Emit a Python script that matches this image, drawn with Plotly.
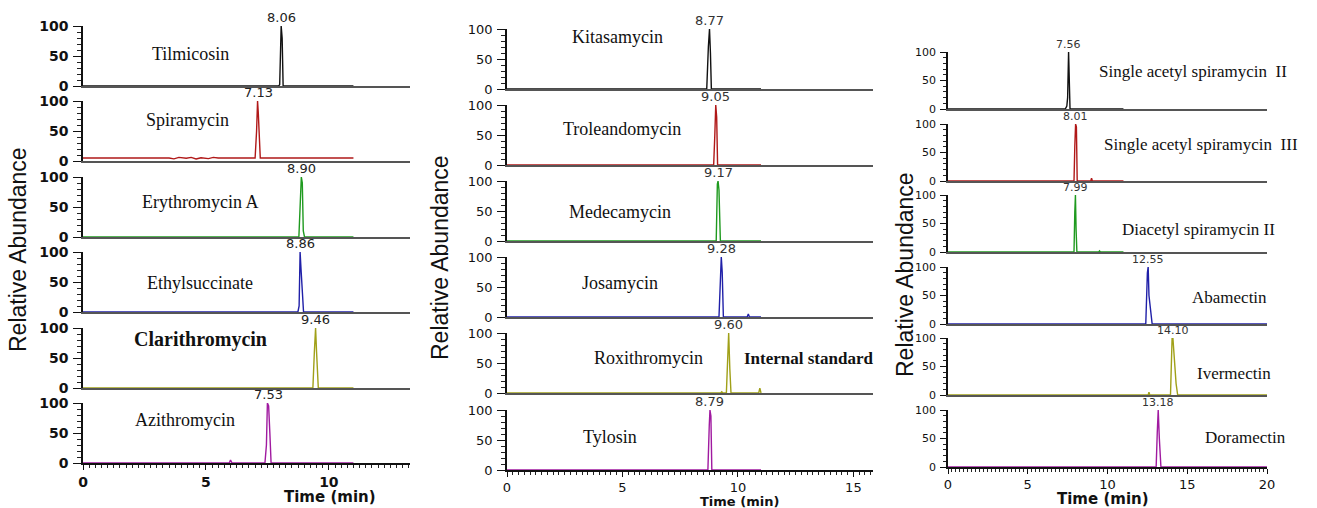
import plotly.graph_objects as go

W, H = 1317, 508

# ---------------- data ----------------
# Column 1
names_c1 = ["Tilmicosin", "Spiramycin", "Erythromycin A", "Ethylsuccinate", "Clarithromycin", "Azithromycin"]
rt_c1 = ["8.06", "7.13", "8.90", "8.86", "9.46", "7.53"]
tilmicosin_t = [0, 7.95, 8.00, 8.03, 8.06, 8.10, 8.14, 11.0]
tilmicosin_y = [0, 0, 2, 78, 100, 80, 0, 0]
spiramycin_t = [0, 3.5, 3.7, 3.9, 4.2, 4.4, 4.6, 4.8, 5.1, 5.3, 5.5, 7.00, 7.06, 7.10, 7.13, 7.17, 7.21, 7.26, 11.0]
spiramycin_y = [5, 5, 3.5, 6, 4.5, 6, 3.5, 5.5, 4, 6, 5, 5, 50, 100, 80, 30, 5, 5, 5]
erythromycin_t = [0, 8.78, 8.84, 8.88, 8.92, 8.96, 9.01, 11.0]
erythromycin_y = [0, 0, 60, 100, 90, 10, 0, 0]
ethylsucc_t = [0, 8.74, 8.79, 8.83, 8.87, 8.91, 8.97, 11.0]
ethylsucc_y = [0, 0, 10, 100, 70, 40, 0, 0]
clarithro_t = [0, 9.35, 9.41, 9.46, 9.50, 9.57, 11.0]
clarithro_y = [0, 0, 60, 100, 60, 0, 0]
azithro_t = [0, 5.95, 6.0, 6.06, 7.40, 7.46, 7.50, 7.55, 7.60, 7.65, 11.0]
azithro_y = [0, 0, 5, 0, 0, 30, 100, 95, 50, 0, 0]

# Column 2
names_c2 = ["Kitasamycin", "Troleandomycin", "Medecamycin", "Josamycin", "Roxithromycin", "Tylosin"]
rt_c2 = ["8.77", "9.05", "9.17", "9.28", "9.60", "8.79"]
kitasa_t = [0, 8.65, 8.72, 8.77, 8.81, 8.85, 11.0]
kitasa_y = [0, 0, 70, 100, 60, 0, 0]
trolean_t = [0, 8.95, 9.00, 9.04, 9.08, 9.12, 11.0]
trolean_y = [0, 0, 50, 100, 80, 0, 0]
medeca_t = [0, 9.06, 9.11, 9.14, 9.18, 9.24, 11.0]
medeca_y = [0, 0, 95, 100, 85, 0, 0]
josa_t = [0, 9.18, 9.24, 9.28, 9.32, 9.37, 10.40, 10.45, 10.50, 11.0]
josa_y = [0, 0, 60, 100, 75, 0, 0, 5, 0, 0]
roxi_t = [0, 9.25, 9.30, 9.35, 9.50, 9.55, 9.60, 9.65, 9.70, 10.90, 10.95, 11.0]
roxi_y = [0, 0, 2, 0, 0, 40, 100, 40, 0, 0, 8, 0]
tylosin_t = [0, 8.70, 8.76, 8.79, 8.83, 8.87, 11.0]
tylosin_y = [0, 0, 75, 100, 90, 0, 0]

# Column 3
names_c3 = ["Single acetyl spiramycin \u00a0II", "Single acetyl spiramycin \u00a0III", "Diacetyl spiramycin II",
            "Abamectin", "Ivermectin", "Doramectin"]
rt_c3 = ["7.56", "8.01", "7.99", "12.55", "14.10", "13.18"]
sacII_t = [0, 7.35, 7.45, 7.50, 7.56, 7.60, 7.65, 11.0]
sacII_y = [0, 0, 5, 20, 100, 70, 0, 0]
sacIII_t = [0, 7.90, 7.95, 8.00, 8.05, 8.10, 8.95, 9.0, 9.05, 11.0]
sacIII_y = [0, 0, 60, 100, 95, 0, 0, 5, 0, 0]
diac_t = [0, 7.90, 7.95, 7.99, 8.03, 8.08, 9.45, 9.5, 9.55, 11.0]
diac_y = [0, 0, 70, 100, 40, 0, 0, 2, 0, 0]
abam_t = [0, 12.40, 12.50, 12.55, 12.60, 12.70, 12.80, 20.0]
abam_y = [0, 0, 90, 100, 50, 20, 0, 0]
iver_t = [0, 12.55, 12.60, 12.65, 13.95, 14.05, 14.10, 14.20, 14.30, 14.40, 20.0]
iver_y = [0, 0, 5, 0, 0, 100, 100, 50, 20, 0, 0]
dora_t = [0, 13.05, 13.12, 13.18, 13.25, 13.35, 20.0]
dora_y = [0, 0, 60, 100, 50, 0, 0]

series_t = [tilmicosin_t, spiramycin_t, erythromycin_t, ethylsucc_t, clarithro_t, azithro_t,
            kitasa_t, trolean_t, medeca_t, josa_t, roxi_t, tylosin_t,
            sacII_t, sacIII_t, diac_t, abam_t, iver_t, dora_t]
series_y = [tilmicosin_y, spiramycin_y, erythromycin_y, ethylsucc_y, clarithro_y, azithro_y,
            kitasa_y, trolean_y, medeca_y, josa_y, roxi_y, tylosin_y,
            sacII_y, sacIII_y, diac_y, abam_y, iver_y, dora_y]
names = names_c1 + names_c2 + names_c3
rts = rt_c1 + rt_c2 + rt_c3

colors = ["#111111", "#b01818", "#1f9a1f", "#2020a8", "#a0a018", "#a01aa0"]

# ---------------- layout geometry (pixels) ----------------
col_x = [(83, 410), (507, 873), (948, 1267)]
col_range = [[0, 13.3], [0, 15.85], [0, 20]]
col_zero = [[86, 161, 237, 312, 388, 463],
            [89, 165, 241, 317, 393, 470],
            [109, 181, 252, 324, 395, 467]]
col_h = [60, 60, 57]

name_pos = [
    [(190, 54), (187, 120), (200, 202), (200, 283), (200, 339), (185, 420)],
    [(617, 37), (622, 129), (620, 212), (620, 283), (648, 358), (610, 437)],
    [(1097, 72), (1102, 145), (1120, 229), (1190, 297), (1195, 373), (1203, 437)],
]

def px(x):
    return x / W

def py(y):
    return 1 - y / H

fig = go.Figure()
layout = dict(width=W, height=H, margin=dict(l=0, r=0, t=0, b=0, pad=0, autoexpand=False),
              plot_bgcolor="white", paper_bgcolor="white", showlegend=False)
annotations = []

ytick_font = [dict(family="DejaVu Sans", size=14, color="#111", weight="bold"),
              dict(family="DejaVu Sans", size=13, color="#111"),
              dict(family="DejaVu Sans", size=11, color="#111")]
xtick_font = [dict(family="DejaVu Sans", size=14, color="#111", weight="bold"),
              dict(family="DejaVu Sans", size=13, color="#111"),
              dict(family="DejaVu Sans", size=13, color="#111")]
rt_font = [dict(family="DejaVu Sans", size=13, color="#222"),
           dict(family="DejaVu Sans", size=13, color="#333"),
           dict(family="DejaVu Sans", size=11, color="#333")]

idx = 0
for c in range(3):
    for r in range(6):
        idx += 1
        xa = "xaxis" if idx == 1 else f"xaxis{idx}"
        ya = "yaxis" if idx == 1 else f"yaxis{idx}"
        xr = "x" if idx == 1 else f"x{idx}"
        yr = "y" if idx == 1 else f"y{idx}"
        z = col_zero[c][r]
        top = z - col_h[c]
        bottom = (r == 5)
        xaxis = dict(domain=[px(col_x[c][0]), px(col_x[c][1])], range=col_range[c],
                     anchor=yr, showgrid=False, zeroline=False, showline=True,
                     linewidth=1.5, fixedrange=True, automargin=False)
        if bottom:
            xaxis.update(linecolor="#111", ticks="outside", tick0=0, dtick=5, ticklen=5,
                         tickwidth=1.3, tickcolor="#111", showticklabels=True,
                         tickfont=xtick_font[c], ticklabelstandoff=0,
                         minor=dict(dtick=0.25, ticklen=3, ticks="outside", tickcolor="#222",
                                    tickwidth=1))
        else:
            xaxis.update(linecolor="#555", ticks="", showticklabels=False)
        yaxis = dict(domain=[py(z), py(top)], range=[0, 100], anchor=xr,
                     showgrid=False, zeroline=False, showline=True, linecolor="#111",
                     linewidth=1.5, ticks="outside", tickvals=[0, 50, 100],
                     ticklen=8 if c < 2 else 6, tickwidth=1.3, tickcolor="#111",
                     tickfont=ytick_font[c], ticklabelstandoff=2, automargin=False,
                     minor=dict(dtick=10, ticklen=4 if c < 2 else 3, ticks="outside",
                                tickcolor="#222", tickwidth=1),
                     fixedrange=True)
        layout[xa] = xaxis
        layout[ya] = yaxis

        fig.add_trace(go.Scatter(x=series_t[idx - 1], y=series_y[idx - 1], mode="lines",
                                 line=dict(color=colors[r], width=1.4),
                                 xaxis=xr, yaxis=yr, hoverinfo="skip"))
        # retention-time label
        rtv = float(rts[idx - 1])
        annotations.append(dict(x=rtv, y=100, xref=xr, yref=yr, text=rts[idx - 1],
                                showarrow=False, yanchor="bottom", xanchor="center",
                                yshift=-1, font=rt_font[c]))
        # compound name
        nx, ny = name_pos[c][r]
        nfont = dict(family="Liberation Serif", size=18 if c < 2 else 17, color="#111")
        if names[idx - 1] == "Clarithromycin":
            nfont = dict(family="Liberation Serif", size=20, color="#111", weight="bold")
        annotations.append(dict(x=px(nx), y=py(ny), xref="paper", yref="paper",
                                text=names[idx - 1], showarrow=False,
                                xanchor="center" if c < 2 else "left", yanchor="middle",
                                font=nfont))

# extra label for internal standard
annotations.append(dict(x=px(808), y=py(358), xref="paper", yref="paper",
                        text="Internal standard", showarrow=False, xanchor="center",
                        yanchor="middle",
                        font=dict(family="Liberation Serif", size=17, color="#111", weight="bold")))

# axis titles
for (tx, ty) in [(18, 250), (440, 258), (905, 275)]:
    annotations.append(dict(x=px(tx), y=py(ty), xref="paper", yref="paper",
                            text="Relative Abundance", showarrow=False, textangle=-90,
                            xanchor="center", yanchor="middle",
                            font=dict(family="Liberation Sans", size=23, color="#111")))
for (tx, ty, fs) in [(330, 497, 15), (740, 501, 13), (1103, 499, 15)]:
    annotations.append(dict(x=px(tx), y=py(ty), xref="paper", yref="paper",
                            text="Time (min)", showarrow=False,
                            xanchor="center", yanchor="middle",
                            font=dict(family="DejaVu Sans", size=fs, color="#111", weight="bold")))

layout["annotations"] = annotations
fig.update_layout(**layout)
fig.write_html("out.html", config={"displayModeBar": False},
               post_script="document.body.style.margin='0';document.body.style.padding='0';"
                           "document.body.style.overflow='hidden';")
